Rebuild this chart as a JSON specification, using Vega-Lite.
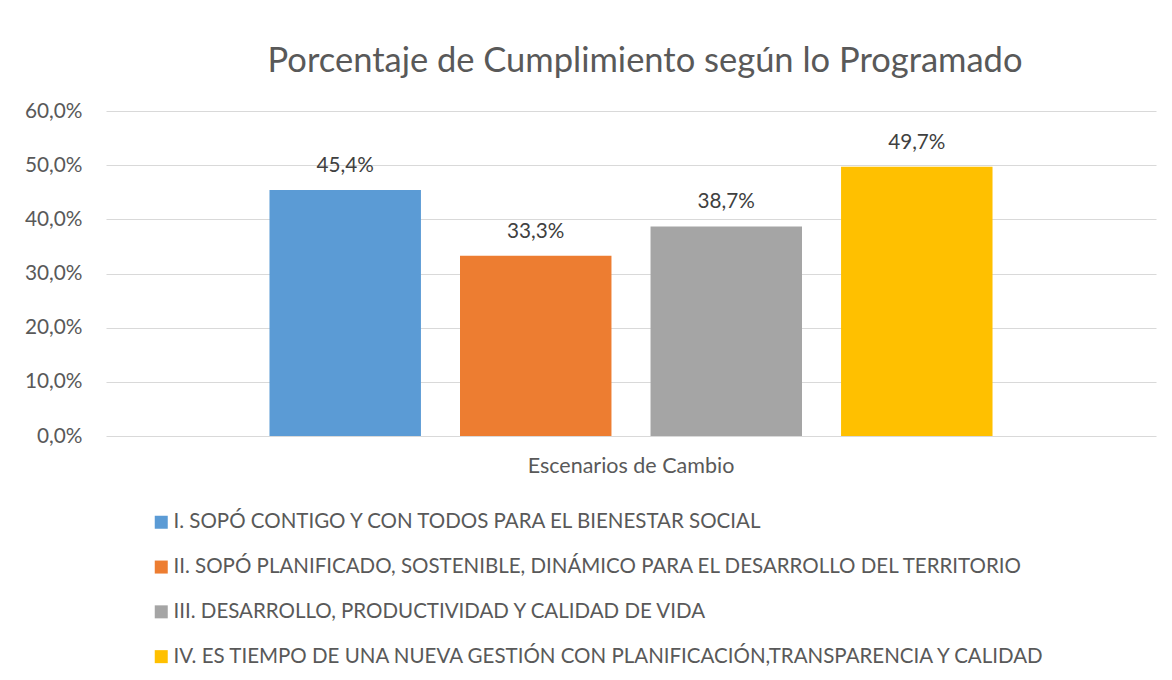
{
  "$schema": "https://vega.github.io/schema/vega-lite/v6.json",
  "width": 1050,
  "height": 325,
  "autosize": {"type": "none"},
  "padding": {"left": 106, "top": 111, "right": 16, "bottom": 244},
  "background": "white",
  "title": {
    "text": "Porcentaje de Cumplimiento según lo Programado",
    "font": "Lato",
    "fontSize": 34.5,
    "fontWeight": "normal",
    "color": "#595959",
    "anchor": "middle",
    "dx": 14,
    "offset": 21
  },
  "data": {
    "values": [
      {"grupo": "Escenarios de Cambio", "serie": "I. SOPÓ CONTIGO Y CON TODOS PARA EL BIENESTAR SOCIAL", "valor": 0.454},
      {"grupo": "Escenarios de Cambio", "serie": "II. SOPÓ PLANIFICADO, SOSTENIBLE, DINÁMICO PARA EL DESARROLLO DEL TERRITORIO", "valor": 0.333},
      {"grupo": "Escenarios de Cambio", "serie": "III. DESARROLLO, PRODUCTIVIDAD Y CALIDAD DE VIDA", "valor": 0.387},
      {"grupo": "Escenarios de Cambio", "serie": "IV. ES TIEMPO DE UNA NUEVA GESTIÓN CON PLANIFICACIÓN,TRANSPARENCIA Y CALIDAD", "valor": 0.497}
    ]
  },
  "encoding": {
    "x": {
      "field": "grupo",
      "type": "nominal",
      "title": null,
      "scale": {"paddingInner": 0, "paddingOuter": 0.2261},
      "axis": {
        "labelAngle": 0,
        "ticks": false,
        "domain": false,
        "labelFont": "Lato",
        "labelFontSize": 21.5,
        "labelColor": "#595959",
        "labelPadding": 19,
        "labelLimit": 0
      }
    },
    "xOffset": {
      "field": "serie",
      "type": "nominal",
      "scale": {"paddingInner": 0.205, "paddingOuter": 0}
    },
    "y": {
      "field": "valor",
      "type": "quantitative",
      "title": null,
      "scale": {"domain": [0, 0.6], "nice": false},
      "axis": {
        "values": [0, 0.1, 0.2, 0.3, 0.4, 0.5, 0.6],
        "format": ".1%",
        "domain": false,
        "ticks": false,
        "grid": true,
        "gridColor": "#d9d9d9",
        "gridWidth": 1.2,
        "labelFont": "Lato",
        "labelFontSize": 20.8,
        "labelColor": "#595959",
        "labelPadding": 24
      }
    }
  },
  "layer": [
    {
      "mark": {"type": "bar"},
      "encoding": {
        "color": {
          "field": "serie",
          "type": "nominal",
          "title": null,
          "scale": {"range": ["#5B9BD5", "#ED7D31", "#A5A5A5", "#FFC000"]},
          "legend": {
            "orient": "none",
            "legendX": 45,
            "legendY": 401,
            "direction": "vertical",
            "symbolType": "square",
            "symbolSize": 169,
            "symbolStrokeWidth": 0,
            "symbolOpacity": 1,
            "labelFont": "Lato",
            "labelFontSize": 20.5,
            "labelColor": "#595959",
            "labelLimit": 0,
            "labelOffset": 2,
            "rowPadding": 23.8
          }
        }
      }
    },
    {
      "mark": {"type": "text", "baseline": "bottom", "dy": -14, "font": "Lato", "fontSize": 20.7, "color": "#404040"},
      "encoding": {
        "text": {"field": "valor", "type": "quantitative", "format": ".1%"}
      }
    }
  ],
  "config": {
    "view": {"stroke": null},
    "locale": {
      "number": {"decimal": ",", "thousands": ".", "grouping": [3], "currency": ["", " €"]}
    }
  }
}
